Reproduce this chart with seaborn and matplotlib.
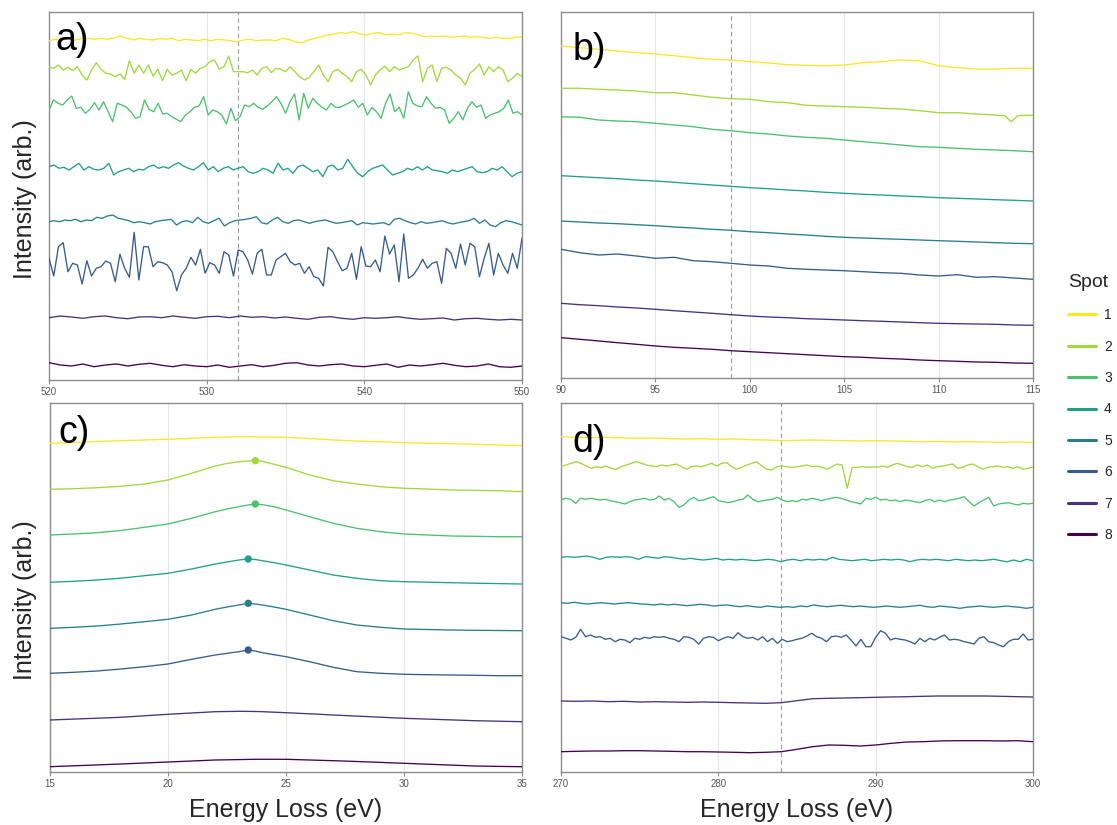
import numpy as np
import pandas as pd
import matplotlib
matplotlib.use("Agg")
import matplotlib.pyplot as plt
from matplotlib.lines import Line2D
import seaborn as sns

# ---------------- data (intensity in arb. units, spectra stacked) ----------------
spots = [1, 2, 3, 4, 5, 6, 7, 8]

# Panel a) O K-edge region, 520-550 eV
a_range = (520, 550)
a_spot1 = [339.3, 340.7, 340, 341.7, 340, 341.3, 341.7, 340.7, 341.7, 340.7, 342, 344, 341.7, 340, 341.7, 340.7, 340, 341.3,
           340.7, 341.7, 339.3, 340.7, 340, 339.3, 340.7, 339.3, 340.7, 340, 339.3, 338.3, 340, 340.7, 339.3, 340, 340, 339.3,
           341.7, 340.7, 338.3, 337.3, 340, 341.7, 343.3, 345, 346, 347.3, 346.7, 348.3, 346, 345, 346.7, 347.3, 345, 346, 345,
           347.3, 346.7, 345, 343.3, 344, 343.3, 344, 342.7, 343.3, 344, 342.7, 343.3, 342.7, 341.7, 342.7, 341.7, 341.3, 342.7, 343.3]
a_spot2 = [313.3, 311.7, 315, 310, 312.7, 309.3, 313.3, 305, 300, 310, 317.3, 310.7, 306.7, 306, 303.3, 306, 300.7, 319.3, 306.7,
           315, 306.7, 315, 304, 310.7, 299.3, 310.7, 305, 306.7, 310, 299.3, 310.7, 306.7, 311.7, 313.3, 318.3, 320, 310.7, 313.3,
           324, 308.3, 308.3, 308.3, 307.3, 310, 305, 311.7, 313.3, 307.3, 311.7, 310.7, 308.3,
           313.3, 308.3, 303.3, 300, 302.7, 308.3, 315, 305, 298.3, 308.3, 310.7, 306.7, 303.3, 298.3, 308.3, 310.7, 305, 295, 305,
           310, 314, 308.3, 313.3, 310, 311.7, 313.3, 320, 324, 298.3, 311.7, 315, 298.3, 311.7, 312.7, 310, 305, 301.7, 295, 306.7,
           310.7, 316, 305, 313.3, 308.3, 313.3, 310, 298.3, 301.7, 306.7, 303.3]
a_spot3 = [270, 280, 276.7, 275, 280, 284, 271.7, 272.7, 266.7, 270.7, 277.3, 270, 278.3, 268.3, 258.3, 276.7, 275, 272.7, 268.3,
           261.7, 263.3, 280, 270.7, 268.3, 276.7, 266, 266.7, 263.3, 260.7, 258.3, 265, 268.3, 272.7, 274, 283.3, 265, 270, 268.3,
           265, 256, 271.7, 259.3, 263.3, 275, 273.3, 276.7, 272.7, 270.7, 274, 278.3, 283.3,
           276.7, 266.7, 278.3, 286, 260, 286.7, 271.7, 281.7, 276.7, 272.7, 270, 276.7, 272.7, 272.7, 275, 277.3, 280, 272.7, 276.7,
           265, 272.7, 268.3, 261.7, 276.7, 286, 268.3, 272.7, 261.7, 288.3, 276.7, 274, 273.3, 283.3, 276.7, 271.7, 272.7, 270,
           256.7, 261.7, 268.3, 260, 271.7, 278.3, 272.7, 275, 261.7, 265, 266.7, 268.3, 271.7, 280, 266.7, 268.3, 265]
a_spot4 = [213.3, 215, 211.7, 212.7, 210, 213.3, 216.7, 210, 213.3, 210.7, 210, 211.7, 216.7, 205, 208.3, 210, 211.7, 208.3, 210.7,
           210, 213.3, 215, 211.7, 213.3, 211.7, 215, 217.3, 214, 211.7, 210, 213.3, 217.3, 210, 213.3, 208.3, 211.7, 213.3, 210,
           211.7, 213.3, 208.3, 206.7, 208.3, 211.7, 210, 206.7, 216.7, 210, 211.7,
           206.7, 213.3, 215, 211.7, 208.3, 210, 203.3, 213.3, 215, 210, 211.7, 220.7, 213.3, 206.7, 203.3, 208.3, 211.7, 213.3, 215,
           210, 205, 206.7, 208.3, 211.7, 210, 213.3, 210, 213.3, 210, 209.3, 208.3, 206.7, 210, 208.3, 210, 211.7, 213.3, 208.3,
           207.3, 208.3, 211.7, 210, 213.3, 208.3, 203.3, 206.7, 208.3]
a_spot5 = [158.3, 159.3, 158.3, 160, 159.3, 160.7, 158.3, 160, 159.3, 162.7, 161.7, 164, 165, 161.7, 160.7, 159.3, 157.3, 158.3,
           157.3, 156, 158.3, 159.3, 160, 160.7, 155, 158.3, 159.3, 157.3, 162.7, 158.3, 156.7, 159.3, 161.7, 154, 157.3, 159.3,
           160, 160.7, 161.7, 163.3, 157.3, 156, 160, 162.7, 158.3, 156.7, 159.3, 160, 158.3,
           156.7, 158.3, 159.3, 160, 158.3, 156.7, 157.3, 158.3, 159.3, 155, 157.3, 156.7, 156, 156.7, 157.3, 155, 160.7, 161.7,
           159.3, 157.3, 156, 158.3, 156.7, 157.3, 158.3, 159.3, 157.3, 156, 157.3, 158.3, 159.3, 161.7, 156.7, 160, 155, 153.3,
           157.3, 159.3, 158.3, 156.7, 155]
a_spot6 = [121.7, 104, 133.3, 137.3, 108.3, 116.7, 115, 96, 119.3, 104, 111.7, 113.3, 119, 116.7, 98.3, 125.7, 111.7, 102.7, 147.7,
           100, 133.3, 133.3, 113.3, 118.3, 117.3, 115, 108.3, 89.3, 105, 111.7, 122.7, 115, 130.7, 106.7, 117.3, 115, 106.7, 128.3,
           125, 104, 130, 128.3, 120, 106, 126.7, 130.7, 105, 105, 120, 123.3,
           126.7, 118.3, 115, 116.7, 106.7, 113.3, 103.3, 101.7, 94, 132.7, 128.3, 118.3, 109.3, 111.7, 126.7, 100.7, 133.3, 114,
           113.3, 120, 108.3, 144, 126, 135, 98.3, 146, 101.7, 105, 111.7, 120.7, 111.7, 116.7, 118.3, 96.7, 131.7, 126.7, 111.7,
           136, 115, 136.7, 133.3, 103.3, 121.7, 136.7, 105, 126.7, 115, 106.7, 126.7, 111.7, 141.7]
a_spot7 = [62.3, 64, 63, 61.7, 63.3, 64, 62.3, 61.3, 63, 63.3, 62.3, 64, 62.7, 61.7, 63.3, 63.7, 62.3, 64, 62.7, 63.3, 62, 63, 61.7,
           60.7, 62.7, 63.3, 61.7, 60.7, 62.3, 61.7, 62.3, 63.3, 61.7, 60.7, 61.3, 62, 60, 61.3, 61.7, 60.7, 60, 60.7, 60]
a_spot8 = [17.3, 15, 14, 16, 13.3, 15, 16, 14, 15.7, 16.7, 14.7, 13.3, 15.3, 14, 13.3, 15, 12.7, 14, 15.3, 13.3, 14.7, 16.7, 17.3,
           15, 14, 15.3, 16, 14, 13.3, 14.7, 16, 12.7, 15, 14, 15.3, 16.7, 14.7, 13.3, 14, 16, 13.3, 12.7, 14]
a_marker = 532

# Panel b) 90-115 eV
b_energy = [90, 91, 92, 93, 94, 95, 96, 97, 98, 99, 100, 101, 102, 103, 104, 105, 106, 107, 108, 109, 110, 111, 112, 113, 114, 115]
b_spot1 = [332, 330.3, 328.7, 327, 325.3, 324, 322.3, 320.3, 318.7, 318, 316.3, 315, 313.3, 312.7, 312.3, 313, 315.3, 316.3, 318,
           317, 312.3, 310.3, 309, 309, 309.7, 309.7]
b_energy2 = [90, 91, 92, 93, 94, 95, 96, 97, 98, 99, 100, 101, 102, 103, 104, 105, 106, 107, 108, 109, 110, 111, 112, 113,
             113.5, 113.85, 114.2, 114.6, 115]
b_spot2 = [289.7, 289.7, 288.7, 288, 287, 285.3, 285.3, 283, 280.7, 279.3, 278.7, 276.3, 275.3, 272.7, 272, 271.3, 270.7, 269.7,
           269, 267.3, 265.3, 265.3, 264, 263, 262.3, 256.3, 262.3, 262.7, 262.7]
b_spot3 = [261.3, 260.7, 258, 257, 256.3, 254.7, 253, 251.3, 248.7, 247.3, 245.3, 244, 242, 240.7, 239.7, 238, 236.3, 234.7, 233,
           231.3, 230.7, 229.7, 228.7, 228, 227.3, 226.3]
b_spot4 = [202.3, 201.3, 200.3, 199.3, 198, 197, 195.7, 194.3, 193, 191.7, 190.3, 189.3, 188, 187, 185.7, 184.7, 183.7, 183, 182,
           181.3, 180.3, 179.7, 179, 178.3, 177.7, 177]
b_spot5 = [157, 156, 155, 154.3, 153.3, 152.3, 151, 150, 148.7, 147.7, 146.3, 145.3, 144, 143, 141.7, 140.7, 140, 139.3, 138.7,
           138, 137.3, 136.7, 136, 135.3, 134.7, 134.3]
b_spot6 = [128.7, 125.3, 123, 124, 122, 119.7, 120.7, 117.3, 116.3, 114.7, 113, 112, 109.7, 108.7, 108, 107.3, 106.3, 105.3,
           104.7, 103, 102, 103.3, 100.7, 101.3, 100, 98.7]
b_spot7 = [74.7, 73.3, 72.3, 71, 70, 68.7, 67.3, 66, 64.7, 63.3, 62, 61, 60.3, 59.3, 58.7, 58, 57.3, 56.7, 56, 55.3, 54.7, 54.3,
           54, 53.7, 53, 52.7]
b_spot8 = [40.3, 38.7, 37, 35.3, 33.7, 32, 30.7, 29.7, 28.7, 27.3, 26.3, 25.3, 24.3, 23.3, 22.3, 21.3, 20.7, 19.7, 19, 18, 17.3,
           16.7, 16, 15.7, 15, 14.7]
b_marker = 99

# Panel c) plasmon region 15-35 eV
c_energy = [15, 16, 17, 18, 19, 20, 21, 22, 22.5, 23, 23.4, 23.7, 24, 24.5, 25, 26, 27, 28, 29, 30, 31, 32, 33, 34, 35]
c_spot1 = [328.7, 329.5, 330.5, 331.3, 332, 332.7, 333.7, 334.7, 335, 335.3, 335.3, 335.2, 335, 334.9, 334.7, 333.5, 332, 331,
           330.2, 329.3, 328.8, 328.3, 327.7, 327, 326.3]
c_spot2 = [282.7, 283.3, 284.3, 285.7, 288, 292, 298.7, 306, 308.5, 310.3, 311, 311.3, 310.7, 307.7, 304.7, 297, 291.3, 288,
           285.3, 283.7, 283, 282, 281.7, 281.3, 280.3]
c_spot3 = [237, 238, 239.3, 241.5, 244.7, 248, 253.7, 260.3, 263, 265.3, 267, 268, 267.3, 265.3, 262, 255.3, 248.7, 243.7, 240.3,
           238, 237, 236, 235.7, 235.3, 235.3]
c_spot4 = [189.7, 190.7, 192, 193.8, 196.3, 198.7, 203, 208, 210, 212, 213, 212.5, 211.3, 209.3, 207, 202, 197, 193.7, 191.3,
           190.3, 189.8, 189.3, 188.8, 188.4, 188]
c_spot5 = [143.7, 144.7, 146, 148, 150.3, 152.7, 157, 162.7, 165, 167, 168.7, 168, 167, 165, 162.7, 157, 151.3, 147, 144.7, 143,
           142.5, 142, 141.7, 141.5, 141.3]
c_spot6 = [98.7, 99.7, 101, 103, 105.3, 108, 112.7, 117, 118.7, 120.3, 122, 121, 119.3, 117.3, 115.3, 110.3, 104.7, 100.3, 98.7,
           97.7, 97.3, 97, 96.7, 96.3, 96.3]
c_spot7 = [52, 52.9, 53.8, 54.7, 56.2, 57.7, 59, 60.3, 60.5, 60.7, 60.6, 60.5, 60.3, 59.8, 59.3, 58.2, 57, 55.9, 54.8, 53.7, 52.9,
           52.1, 51.3, 50.8, 50.3]
c_spot8 = [5.3, 6.2, 7.1, 8, 9, 10, 11, 12, 12.2, 12.4, 12.6, 12.7, 12.7, 12.7, 12.7, 12, 11.3, 10.5, 9.6, 8.7, 7.8, 6.9, 6, 5.6, 5.3]
c_peak_spot = [2, 3, 4, 5, 6]
c_peak_energy = [23.7, 23.7, 23.4, 23.4, 23.4]
c_peak_intensity = [311.3, 268, 213, 168.7, 122]

# Panel d) C K-edge region 270-300 eV
d_range = (270, 300)
d_energy = list(range(270, 301))
d_spot1 = [335.3, 334.7, 334.3, 334.7, 334, 333.7, 334, 333.3, 333, 333.3, 332.7, 333, 332.3, 332, 331.3, 331.7, 332, 331.7,
           331.3, 331, 331.3, 331, 330.7, 330.3, 330.7, 330, 330.3, 330, 329.7, 330, 329.7]
d_spot2 = [305.3, 307, 308.7, 310.3, 308.7, 306, 303.7, 305.3, 304.3, 306, 303.7, 302.7, 305.3, 307, 308.7, 310.3, 308.7, 307,
           306, 305.3, 307, 306, 307, 308, 305.3, 302.7, 305.3, 306, 305.3, 307, 308.7, 306, 308.7, 309.3, 305.3, 302.7, 304.7,
           307, 308.7, 310.3, 306, 302.7, 302, 305.3, 306, 305.3, 304.7, 305.3,
           306, 307, 305.3, 306, 304.7, 302.7, 305.3, 308, 307, 283.7, 304.7, 304.7, 305.3, 304.7, 305.3, 304.7, 306, 304.7, 307,
           308.7, 307, 305.3, 304.7, 307, 305.3, 307, 303.7, 305.3, 306, 307, 308, 303.7, 304.7, 307, 308, 305.3, 302.7, 304.7,
           305.3, 306, 304.7, 305.3, 303.7, 305.3, 302.7, 303.7, 304.7]
d_spot3 = [272, 273.7, 272.7, 268.7, 273.7, 272.7, 273.7, 272.7, 272, 272.7, 271.3, 270.3, 269.3, 268, 270.3, 272, 272.7, 273.7,
           272, 272.7, 276, 272, 273.7, 270.3, 264.7, 267, 272, 274.7, 271.3, 272, 273.7, 275.3, 271.3, 270.3, 269.3, 270.3, 272,
           272.7, 277, 272.7, 270.3, 271.3, 272, 272.7, 274.7, 272, 270.3, 271.3, 270.3,
           272.7, 272, 273.7, 272.7, 271.3, 272.7, 273.7, 274.7, 273.7, 272, 270.3, 269.3, 268, 273.7, 272.7, 274.7, 272, 272.7,
           271.3, 272, 270.3, 272, 271.3, 270.3, 269.3, 271.3, 272.7, 270.3, 272, 270.3, 272, 272.7, 273.7, 275.3, 270.3, 266,
           269.3, 272, 274.7, 266, 268, 268.7, 269.3, 268, 267, 268.7, 268, 268.7]
d_spot4 = [214.7, 215.3, 214.7, 215.3, 216, 214.7, 212.7, 214.7, 215.3, 214.7, 215.3, 214.7, 212.7, 215.3, 214.7, 213.7, 215.3,
           214.7, 213.7, 212.7, 213.7, 212.7, 212, 212.7, 213.7, 212, 212.7, 212, 212.7, 212, 211.3, 212, 212.7, 212, 210.3, 212,
           212.7,
           211.3, 212.7, 212, 212.7, 212, 214.7, 212.7, 212, 211.3, 212, 212.7, 211.3, 212, 212.7, 212, 212.7, 212, 210.3, 212,
           212.7, 212, 212.7, 212, 211.3, 212.7, 212, 211.3, 212, 211.3, 212, 212.7, 211.3, 210.3, 212, 210.3, 212.7, 211.3]
d_spot5 = [169.3, 168.7, 169.7, 168.7, 168, 168.7, 169.3, 168.7, 168, 168.7, 169.3, 168.7, 168, 167.7, 167, 168, 167, 167.7, 167,
           166.3, 167, 167.7, 167, 166, 166.7, 167, 166, 165.3, 166.3, 165.3, 164.7, 166, 165.3, 164.7, 165.3, 164.7,
           166, 165.3, 167, 166, 165.3, 166, 166.7, 166, 165.3, 166, 165.3, 164.7, 165.3, 166, 165.3, 164.7, 165.3, 166, 166.7,
           165.3, 164.7, 166, 165.3, 164.7, 163.7, 164.7, 165.3, 166, 165.3, 164.7, 165.3, 166, 165.3, 164.7, 163.7, 164.7]
d_spot6 = [135.3, 133.7, 132, 134.7, 142.7, 135.3, 137, 134.7, 135.3, 132.7, 133.7, 130.3, 132.7, 132, 129.3, 133.7, 132.7, 134.7,
           133.7, 135.3, 134.7, 135.3, 133.7, 132.7, 130.3, 135.3, 134.7, 132.7, 128, 133.7, 135.3, 134.7, 131.3, 133.7, 135.3,
           133.7, 139.3, 135.3, 133.7, 134.7, 132, 135.3, 130.3, 133.7, 128.7, 132.7, 130.3, 131.3, 132.7,
           133.7, 136, 138.7, 135.3, 133.7, 130.3, 135.3, 136, 134.7, 137, 132, 126, 132.7, 125.3, 125.3, 134.7, 141.3, 138.7, 132,
           133.7, 132.7, 132, 130.3, 128, 133.7, 130.3, 133.7, 132, 134.7, 137, 132, 132.7, 132, 130.3, 129.3, 128, 133.7, 135.3,
           130.3, 129.3, 127, 125.3, 130.3, 132.7, 132.7, 138, 132, 132.7]
d_spot7 = [71, 70.7, 71, 70.3, 70.7, 70, 70.3, 70, 69.7, 70, 69.7, 69.3, 69, 68.7, 69.3, 71.3, 73.3, 73.7, 74, 74.3, 74.7, 75,
           75.3, 75.7, 76, 76, 76, 76, 75.7, 75.3, 75]
d_spot8 = [20.3, 20.7, 21, 21, 21.3, 21.3, 21, 20.7, 20.3, 20.3, 20, 19.7, 19.3, 19.7, 20.3, 22.7, 25.3, 27, 26.7, 26, 27, 28.7,
           30, 30.3, 31, 31.3, 31.3, 31.3, 31, 31.3, 30.3]
d_marker = 284

# ---------------- build long tables ----------------
def long_table(series):
    rows = []
    for spot, (x, y) in series.items():
        for xi, yi in zip(x, y):
            rows.append((spot, xi, yi))
    return pd.DataFrame(rows, columns=["Spot", "Energy", "Intensity"])

def grid(rng, vals):
    return np.linspace(rng[0], rng[1], len(vals))

a_vals = [a_spot1, a_spot2, a_spot3, a_spot4, a_spot5, a_spot6, a_spot7, a_spot8]
df_a = long_table({s: (grid(a_range, v), v) for s, v in zip(spots, a_vals)})
b_vals = [b_spot1, b_spot2, b_spot3, b_spot4, b_spot5, b_spot6, b_spot7, b_spot8]
df_b = long_table({s: (b_energy2 if s == 2 else b_energy, v) for s, v in zip(spots, b_vals)})
c_vals = [c_spot1, c_spot2, c_spot3, c_spot4, c_spot5, c_spot6, c_spot7, c_spot8]
df_c = long_table({s: (c_energy, v) for s, v in zip(spots, c_vals)})
d_vals = [d_spot1, d_spot2, d_spot3, d_spot4, d_spot5, d_spot6, d_spot7, d_spot8]
df_d = long_table({s: (d_energy if len(v) == len(d_energy) else grid(d_range, v), v) for s, v in zip(spots, d_vals)})
df_peaks = pd.DataFrame({"Spot": c_peak_spot, "Energy": c_peak_energy, "Intensity": c_peak_intensity})

# ---------------- style ----------------
sns.set_theme(style="white")
plt.rcParams["font.family"] = ["Liberation Sans", "DejaVu Sans"]

cmap = matplotlib.colormaps["viridis"]
colors = [cmap(i / 7) for i in range(8)][::-1]
palette = {s: c for s, c in zip(spots, colors)}

W, H = 1117, 825
fig = plt.figure(figsize=(W / 100, H / 100), dpi=100)

def px_axes(left, top, right, bottom):
    return fig.add_axes([left / W, 1 - bottom / H, (right - left) / W, (bottom - top) / H])

ax_a = px_axes(49, 12, 522, 380)
ax_b = px_axes(561, 12, 1033, 378)
ax_c = px_axes(50, 403, 522, 772)
ax_d = px_axes(561, 403, 1033, 772)

panels = [
    (ax_a, df_a, (520, 550), [520, 530, 540, 550], a_marker, "a)", 38, 6),
    (ax_b, df_b, (90, 115), [90, 95, 100, 105, 110, 115], b_marker, "b)", 48, 12),
    (ax_c, df_c, (15, 35), [15, 20, 25, 30, 35], None, "c)", 40, 8),
    (ax_d, df_d, (270, 300), [270, 280, 290, 300], d_marker, "d)", 49, 11),
]

for ax, df, xlim, ticks, marker, label, base_off, left_off in panels:
    sns.lineplot(data=df, x="Energy", y="Intensity", hue="Spot", palette=palette,
                 estimator=None, units="Spot", sort=False, linewidth=0.95,
                 legend=False, ax=ax, zorder=3)
    ax.set_xlim(*xlim)
    h = ax.get_position().height * H
    ax.set_ylim(0, h)
    ax.set_xticks(ticks)
    ax.set_xticklabels([str(t) for t in ticks])
    ax.set_yticks([])
    ax.set_xlabel("")
    ax.set_ylabel("")
    ax.grid(axis="x", color="#e6e6e6", linewidth=0.8, zorder=0)
    ax.grid(axis="y", visible=False)
    for sp in ax.spines.values():
        sp.set_color("#8c8c8c")
        sp.set_linewidth(1.0)
    ax.tick_params(axis="x", length=3, width=0.8, color="#8c8c8c", labelsize=7,
                   labelcolor="#555555", pad=2, bottom=True)
    if marker is not None:
        ax.axvline(marker, color="#9a9a9a", linewidth=0.8, linestyle=(0, (4, 3)), zorder=2)
    w = ax.get_position().width * W
    ax.text(left_off / w, 1 - base_off / h, label, transform=ax.transAxes,
            fontsize=27, va="baseline", ha="left", color="black", zorder=5)

sns.scatterplot(data=df_peaks, x="Energy", y="Intensity", hue="Spot", palette=palette,
                s=28, edgecolor="none", legend=False, ax=ax_c, zorder=4)
ax_c.set_xlabel("")
ax_c.set_ylabel("")

# axis titles
fig.text(25 / W, 1 - 199 / H, "Intensity (arb.)", rotation=90, ha="center", va="center", fontsize=18)
fig.text(25 / W, 1 - 600 / H, "Intensity (arb.)", rotation=90, ha="center", va="center", fontsize=18)
fig.text(286 / W, 1 - 817 / H, "Energy Loss (eV)", ha="center", va="baseline", fontsize=18)
fig.text(797 / W, 1 - 817 / H, "Energy Loss (eV)", ha="center", va="baseline", fontsize=18)

# legend
handles = [Line2D([0], [0], color=palette[s], linewidth=2.2) for s in spots]
leg = fig.legend(handles, [str(s) for s in spots], title="Spot", loc="upper left",
                 bbox_to_anchor=(1068 / W, 1 - 274 / H), frameon=False, fontsize=10,
                 title_fontsize=14, handlelength=2.0, handletextpad=0.6,
                 labelspacing=1.25, borderpad=0, borderaxespad=0, alignment="left")

fig.savefig("out.png", dpi=100)
